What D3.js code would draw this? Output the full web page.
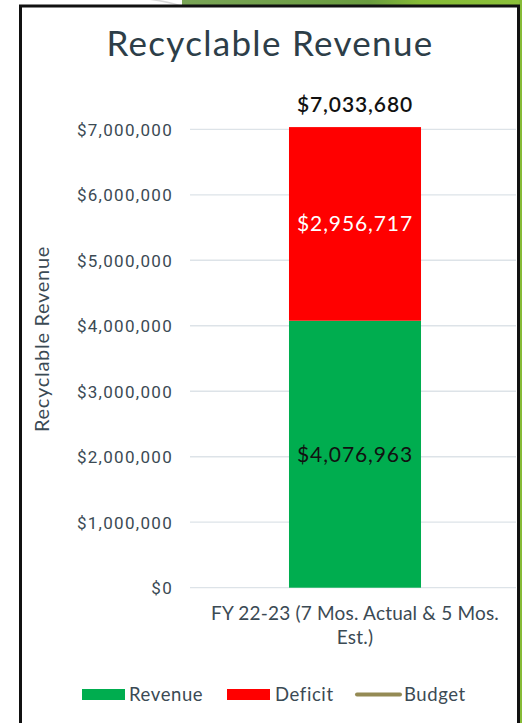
<!DOCTYPE html>
<html>
<head>
<meta charset="utf-8">
<script src="https://cdn.jsdelivr.net/npm/d3@7"></script>
<style>
  html, body { margin: 0; padding: 0; background: #fff; }
  svg { display: block; }
</style>
</head>
<body>
<svg id="chart" width="522" height="723"></svg>
<script>
// Chart data
const categories = ["FY 22-23 (7 Mos. Actual & 5 Mos. Est.)"];
const revenue = [4076963];
const deficit = [2956717];
const budget = [7033680];
const yTicks = [0, 1000000, 2000000, 3000000, 4000000, 5000000, 6000000, 7000000];
const legendItems = ["Revenue", "Deficit", "Budget"];

const colors = { Revenue: "#00ad4f", Deficit: "#ff0000", Budget: "#948a54" };
const textColor = "#3b4a54";
const font = "Lato, 'Open Sans', sans-serif";

const svg = d3.select("#chart");

// Slide decoration behind the chart frame
const grad = svg.append("defs").append("linearGradient").attr("id", "band")
  .attr("x1", "0%").attr("x2", "100%");
grad.append("stop").attr("offset", "0%").attr("stop-color", "#7aa557");
grad.append("stop").attr("offset", "55%").attr("stop-color", "#6a9c3f");
grad.append("stop").attr("offset", "70%").attr("stop-color", "#86bb36");
grad.append("stop").attr("offset", "100%").attr("stop-color", "#8cc13a");
svg.append("rect").attr("x", 182).attr("y", 0).attr("width", 340).attr("height", 7).attr("fill", "url(#band)");
svg.append("path").attr("d", "M150,0 Q170,3 182,7 L186,7 Q176,3 160,0 Z").attr("fill", "#d9d9d9");
svg.append("rect").attr("x", 519).attr("y", 0).attr("width", 3).attr("height", 723).attr("fill", "#86bb36");

// Chart frame
svg.append("path")
  .attr("d", "M20.5,730 L20.5,6 L518.5,6 L518.5,730")
  .attr("fill", "#fff").attr("stroke", "#111").attr("stroke-width", 3);

// Scales
const plot = { left: 190, right: 516, top: 129.3, bottom: 587.7 };
const x = d3.scaleBand().domain(categories).range([plot.left + 4, plot.right]).paddingInner(0.59).paddingOuter(0.295);
const y = d3.scaleLinear().domain([0, 7000000]).range([plot.bottom, plot.top]);

// Gridlines
svg.append("g").selectAll("line").data(yTicks).join("line")
  .attr("x1", plot.left).attr("x2", plot.right)
  .attr("y1", d => y(d)).attr("y2", d => y(d))
  .attr("stroke", "#dde3e8").attr("stroke-width", 1.3);

// Y axis tick labels
const yAxis = d3.axisLeft(y).tickValues(yTicks).tickSize(0).tickPadding(0)
  .tickFormat(d => "$" + d3.format(",")(d));
const gy = svg.append("g").attr("transform", `translate(173,0)`).call(yAxis);
gy.select(".domain").remove();
gy.selectAll("text").attr("font-family", "Roboto, sans-serif").attr("font-size", 17)
  .attr("letter-spacing", 1.3).attr("fill", textColor).attr("dy", "0.35em");

// Stacked bars
const stackData = categories.map((c, i) => ({ cat: c, Revenue: revenue[i], Deficit: deficit[i] }));
const series = d3.stack().keys(["Revenue", "Deficit"])(stackData);
const bars = svg.append("g");
series.forEach(s => {
  bars.selectAll(null).data(s).join("rect")
    .attr("x", d => x(d.data.cat))
    .attr("width", x.bandwidth())
    .attr("y", d => y(d[1]))
    .attr("height", d => y(d[0]) - y(d[1]))
    .attr("fill", colors[s.key]);
});

// Segment value labels
const fmt = v => "$" + d3.format(",")(v);
series.forEach(s => {
  svg.append("g").selectAll("text").data(s).join("text")
    .attr("x", d => x(d.data.cat) + x.bandwidth() / 2)
    .attr("y", d => (y(d[0]) + y(d[1])) / 2)
    .attr("dy", "0.35em")
    .attr("text-anchor", "middle")
    .attr("font-family", font).attr("font-size", 21).attr("letter-spacing", 0.9)
    .attr("fill", s.key === "Deficit" ? "#fff" : "#111")
    .text(d => fmt(d[1] - d[0]));
});

// Budget value label
svg.append("g").selectAll("text").data(budget).join("text")
  .attr("x", (d, i) => x(categories[i]) + x.bandwidth() / 2)
  .attr("y", d => y(d) - 22)
  .attr("dy", "0.35em")
  .attr("text-anchor", "middle")
  .attr("font-family", font).attr("font-size", 21).attr("font-weight", 600).attr("letter-spacing", 0.9)
  .attr("fill", "#111")
  .text(d => fmt(d));

// Category label (wrapped on two lines)
const catLines = ["FY 22-23 (7 Mos. Actual & 5 Mos.", "Est.)"];
const catText = svg.append("text")
  .attr("text-anchor", "middle")
  .attr("font-family", font).attr("font-size", 19).attr("letter-spacing", 0.2).attr("fill", textColor);
catLines.forEach((l, i) => catText.append("tspan")
  .attr("x", x(categories[0]) + x.bandwidth() / 2)
  .attr("y", 620 + i * 24).text(l));

// Title
svg.append("text").attr("x", 270).attr("y", 56).attr("text-anchor", "middle")
  .attr("font-family", font).attr("font-size", 35).attr("letter-spacing", 1.3).attr("fill", "#2d3e48")
  .text("Recyclable Revenue");

// Y axis title
svg.append("text").attr("transform", "translate(49,339) rotate(-90)")
  .attr("text-anchor", "middle")
  .attr("font-family", font).attr("font-size", 20).attr("letter-spacing", 0.7).attr("fill", textColor)
  .text("Recyclable Revenue");

// Legend
const legendPos = [{ sx: 82, tx: 129 }, { sx: 227, tx: 275 }, { sx: 355, tx: 404 }];
const lg = svg.append("g");
legendItems.forEach((k, i) => {
  const p = legendPos[i];
  if (k === "Budget") {
    lg.append("line").attr("x1", p.sx + 2).attr("x2", p.sx + 45).attr("y1", 694.5).attr("y2", 694.5)
      .attr("stroke", colors[k]).attr("stroke-width", 4).attr("stroke-linecap", "round");
  } else {
    lg.append("rect").attr("x", p.sx).attr("y", 689).attr("width", 43).attr("height", 11).attr("fill", colors[k]);
  }
  lg.append("text").attr("x", p.tx).attr("y", 694.5).attr("dy", "0.35em")
    .attr("font-family", font).attr("font-size", 18.5).attr("letter-spacing", 0.6).attr("fill", textColor).text(k);
});
</script>
</body>
</html>
